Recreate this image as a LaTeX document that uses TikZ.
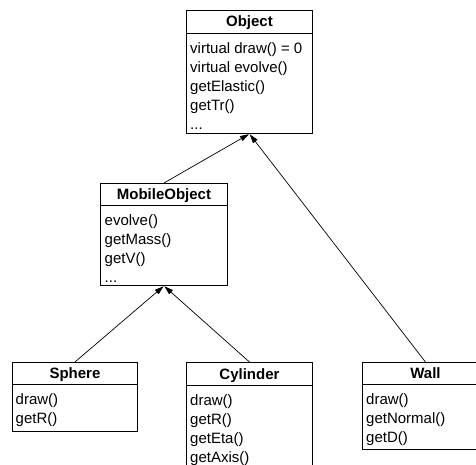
\documentclass[tikz,border=0pt]{standalone}
\usepackage{fontspec}
\setmainfont{Liberation Sans}
\usetikzlibrary{arrows.meta}
\tikzset{
  classbox/.style={draw=black, line width=0.9pt, anchor=north west, inner sep=0pt, fill=white},
  headtext/.style={anchor=base, inner sep=0pt, font=\fontsize{15}{19}\selectfont\bfseries},
  bodytext/.style={anchor=north west, inner sep=0pt, align=left, font=\fontsize{15}{19}\selectfont},
  sepline/.style={line width=0.9pt},
  inherit/.style={line width=0.7pt, -{Triangle[length=9pt,width=5.5pt]}, shorten >=0.5pt}
}
\begin{document}
\begin{tikzpicture}[x=1pt,y=-1pt]
\useasboundingbox (0,0) rectangle (476,465);
\clip (0,0) rectangle (476,465);
\fill[white] (0,0) rectangle (476,465);

% Object
\node[classbox, minimum width=126pt, minimum height=123pt] (object) at (186,10) {};
\draw[sepline] ([yshift=-23pt]object.north west) -- ([yshift=-23pt]object.north east);
\node[headtext] (objecthead) at ([yshift=-17pt]object.north) {Object};
\node[bodytext] (objectbody) at ([xshift=4pt,yshift=-29.7pt]object.north west)
  {\strut virtual draw() = 0\\virtual evolve()\\getElastic()\\getTr()\\...};

% MobileObject
\node[classbox, minimum width=127pt, minimum height=102pt] (mobile) at (100,183) {};
\draw[sepline] ([yshift=-22pt]mobile.north west) -- ([yshift=-22pt]mobile.north east);
\node[headtext] (mobilehead) at ([yshift=-16.5pt]mobile.north) {MobileObject};
\node[bodytext] (mobilebody) at ([xshift=4.5pt,yshift=-28.7pt]mobile.north west)
  {\strut evolve()\\getMass()\\getV()\\...};

% Sphere
\node[classbox, minimum width=125pt, minimum height=69pt] (sphere) at (12,362) {};
\draw[sepline] ([yshift=-22pt]sphere.north west) -- ([yshift=-22pt]sphere.north east);
\node[headtext] (spherehead) at ([yshift=-16.5pt]sphere.north) {Sphere};
\node[bodytext] (spherebody) at ([xshift=3.5pt,yshift=-28.7pt]sphere.north west)
  {\strut draw()\\getR()};

% Cylinder
\node[classbox, minimum width=126pt, minimum height=110pt] (cylinder) at (186,362) {};
\draw[sepline] ([yshift=-23pt]cylinder.north west) -- ([yshift=-23pt]cylinder.north east);
\node[headtext] (cylinderhead) at ([yshift=-17pt]cylinder.north) {Cylinder};
\node[bodytext] (cylinderbody) at ([xshift=4pt,yshift=-29.7pt]cylinder.north west)
  {\strut draw()\\getR()\\getEta()\\getAxis()};

% Wall
\node[classbox, minimum width=126pt, minimum height=87pt] (wall) at (362,362) {};
\draw[sepline] ([yshift=-22pt]wall.north west) -- ([yshift=-22pt]wall.north east);
\node[headtext] (wallhead) at ([yshift=-16.5pt]wall.north) {Wall};
\node[bodytext] (wallbody) at ([xshift=4pt,yshift=-28.7pt]wall.north west)
  {\strut draw()\\getNormal()\\getD()};

% inheritance
\draw[inherit] (mobile.north) -- (object.south);
\draw[inherit] (wall.north) -- (object.south);
\draw[inherit] (sphere.north) -- (mobile.south);
\draw[inherit] (cylinder.north) -- (mobile.south);
\end{tikzpicture}
\end{document}
